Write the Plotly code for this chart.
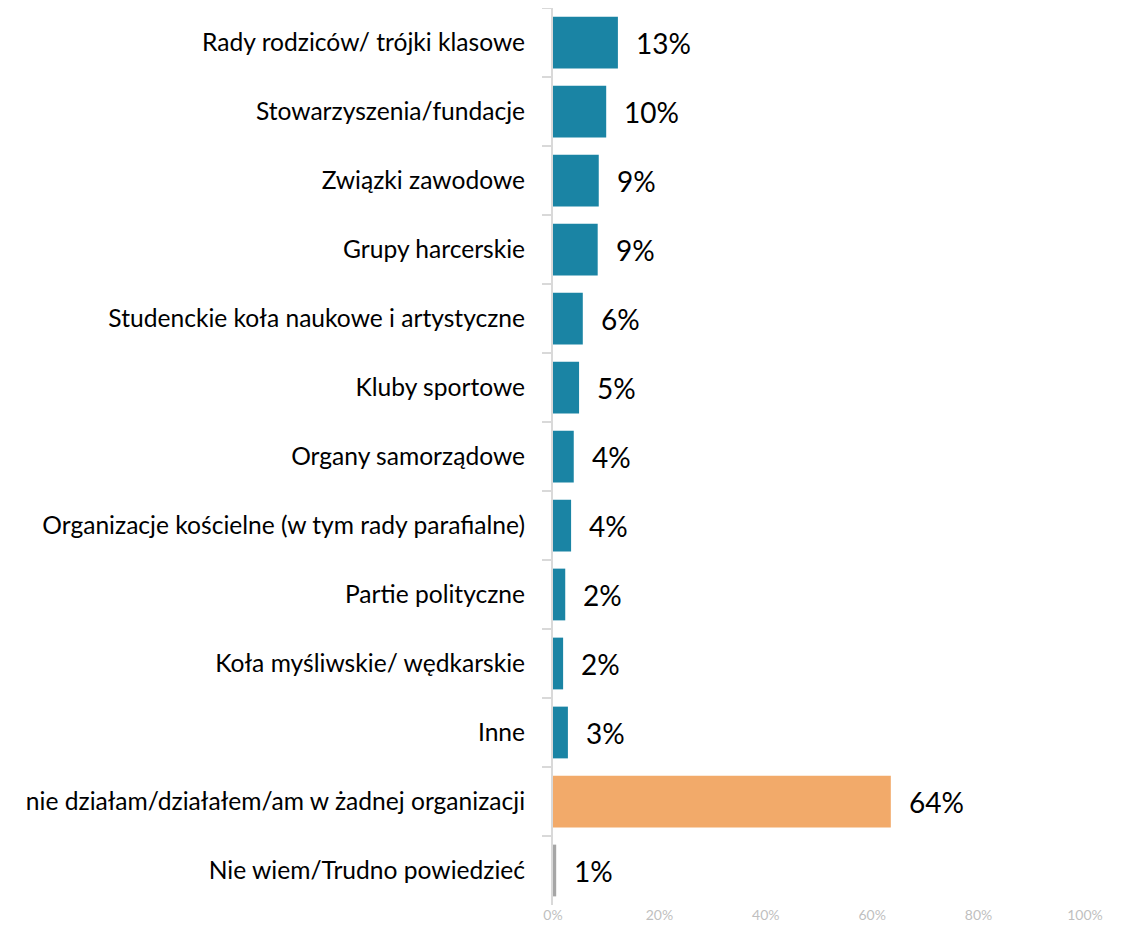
import plotly.graph_objects as go

# categories top to bottom
categories = [
    "Rady rodziców/ trójki klasowe",
    "Stowarzyszenia/fundacje",
    "Związki zawodowe",
    "Grupy harcerskie",
    "Studenckie koła naukowe i artystyczne",
    "Kluby sportowe",
    "Organy samorządowe",
    "Organizacje kościelne (w tym rady parafialne)",
    "Partie polityczne",
    "Koła myśliwskie/ wędkarskie",
    "Inne",
    "nie działam/działałem/am w żadnej organizacji",
    "Nie wiem/Trudno powiedzieć",
]
values = [12.2, 10.0, 8.6, 8.4, 5.6, 4.9, 3.9, 3.4, 2.3, 1.9, 2.8, 63.5, 0.6]
labels = ["13%", "10%", "9%", "9%", "6%", "5%", "4%", "4%", "2%", "2%", "3%", "64%", "1%"]

TEAL = "#1a84a4"
ORANGE = "#f2aa6a"
GREY = "#a6a6a6"
colors = [TEAL] * 11 + [ORANGE, GREY]

FONT = "Lato"

fig = go.Figure()
fig.add_trace(go.Bar(
    y=categories, x=values, orientation="h",
    marker=dict(color=colors, line=dict(width=0)),
    hoverinfo="skip",
))

# value labels to the right of each bar
for cat, v, lab in zip(categories, values, labels):
    fig.add_annotation(x=v, y=cat, text=lab, showarrow=False,
                       xanchor="left", xshift=16,
                       font=dict(family=FONT, size=28, color="#000000"))

# page body adds 8px margin, so figure is a bit smaller than the window
fig.update_layout(
    width=1106, height=924,
    margin=dict(l=545, r=29, t=0, b=27),
    plot_bgcolor="white", paper_bgcolor="white",
    bargap=0.25, showlegend=False,
    font=dict(family=FONT),
)
fig.update_yaxes(
    autorange="reversed", automargin=False,
    showline=True, linecolor="#d9d9d9", linewidth=2,
    ticks="outside", tickson="boundaries", ticklen=9, tickcolor="#d9d9d9", tickwidth=2,
    ticklabelstandoff=21,
    tickfont=dict(family=FONT, size=24.6, color="#000000"),
    showgrid=False,
)
fig.update_xaxes(
    range=[0, 100], dtick=20, ticksuffix="%",
    showline=False, showgrid=False, zeroline=False, automargin=False,
    tickfont=dict(family=FONT, size=14, color="#bfbfbf"),
)

fig.write_html("out.html")
